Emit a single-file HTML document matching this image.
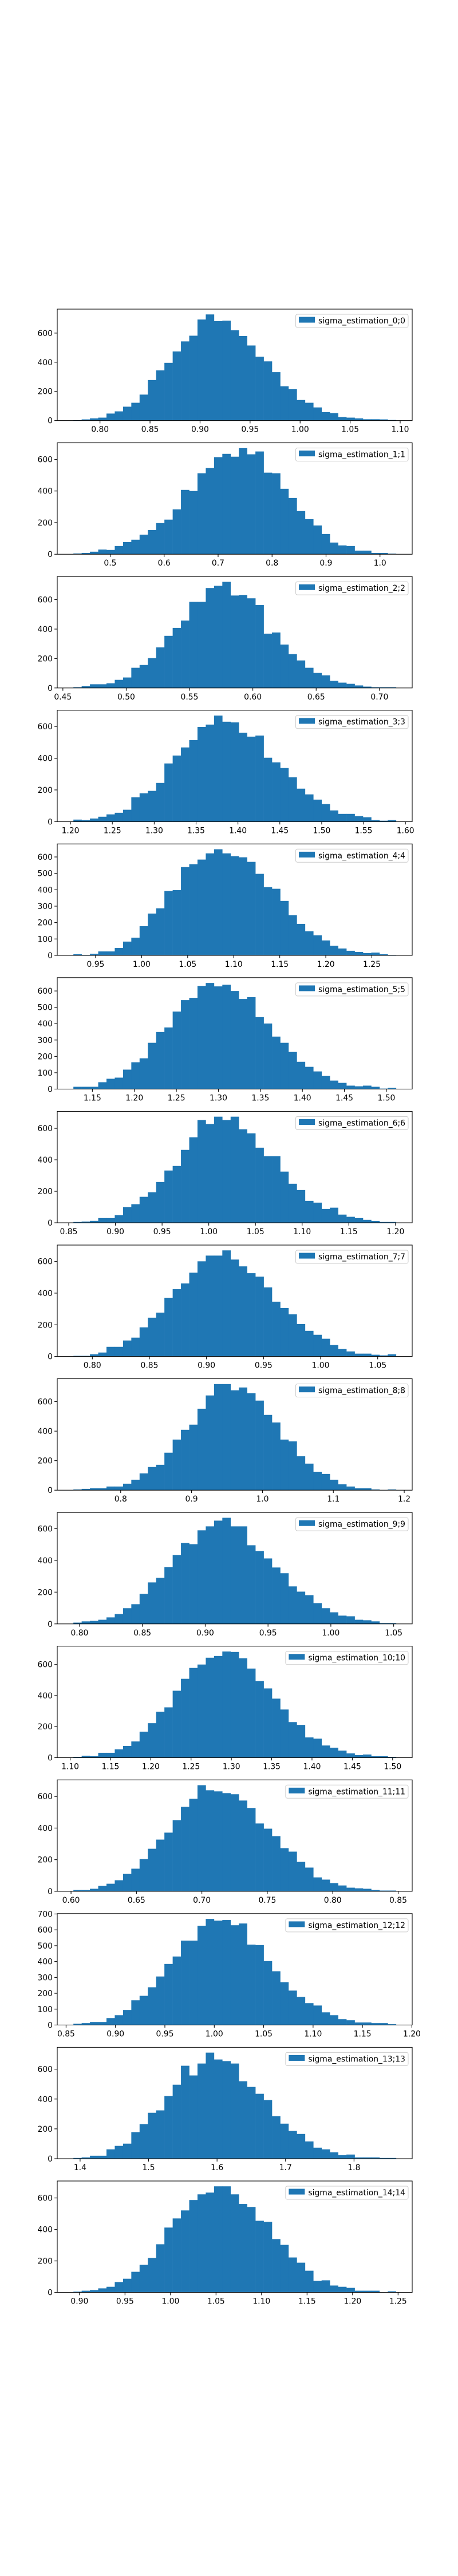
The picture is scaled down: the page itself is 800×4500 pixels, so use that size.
<!DOCTYPE html>
<html><head><meta charset="utf-8">
<style>
html,body{margin:0;padding:0;background:#fff;}
svg{display:block;}
text{font-family:"DejaVu Sans","Liberation Sans",sans-serif;font-size:13.9px;fill:#000;}
</style></head>
<body>
<svg id="fig" width="800" height="4500" viewBox="0 0 800 4500" xmlns="http://www.w3.org/2000/svg"></svg>
<script>
// ---- data (one array per panel) ----
const labels = ["sigma_estimation_0;0","sigma_estimation_1;1","sigma_estimation_2;2","sigma_estimation_3;3","sigma_estimation_4;4","sigma_estimation_5;5","sigma_estimation_6;6","sigma_estimation_7;7","sigma_estimation_8;8","sigma_estimation_9;9","sigma_estimation_10;10","sigma_estimation_11;11","sigma_estimation_12;12","sigma_estimation_13;13","sigma_estimation_14;14"];
const dataMin = [0.7734,0.4318,0.4583,1.2035,0.9259,1.1274,0.855,0.7834,0.7333,0.7951,1.104,0.6018,0.8574,1.3902,0.8933];
const dataMax = [1.0959,1.0298,0.7131,1.5888,1.2763,1.5115,1.2006,1.0661,1.1885,1.0519,1.5043,0.8484,1.184,1.8614,1.2478];
const counts0 = [3,8,15,20,48,63,95,122,178,278,344,396,474,543,582,693,728,682,685,619,580,515,438,406,332,235,215,141,122,90,58,51,24,20,15,9,9,8,4];
const counts1 = [5,8,16,30,27,52,77,92,124,153,197,219,284,407,400,512,545,614,635,617,671,632,650,516,512,414,356,273,222,182,128,74,56,52,23,23,8,8,4];
const counts2 = [5,13,25,25,32,55,71,137,156,203,276,354,408,458,585,585,679,694,721,628,632,609,563,369,377,295,230,187,137,102,86,48,36,28,17,9,5,5,5];
const counts3 = [13,10,20,31,46,56,75,154,179,194,244,367,417,468,514,597,612,669,630,626,561,536,543,403,374,338,280,208,172,139,111,71,49,49,35,28,10,6,10];
const counts4 = [7,3,10,24,24,45,84,108,178,255,287,393,398,538,556,584,622,647,622,605,598,570,497,416,406,332,245,192,147,122,91,59,42,28,21,14,17,7,3];
const counts5 = [14,14,14,42,63,70,119,164,188,283,349,377,474,544,558,631,649,628,638,600,551,562,440,401,321,283,227,167,136,108,80,52,38,21,17,21,14,3,7];
const counts6 = [5,8,12,30,30,48,99,118,165,194,259,332,361,463,543,652,627,674,652,674,594,568,477,423,423,325,248,208,139,128,88,96,52,38,30,19,11,5,5];
const counts7 = [4,4,14,25,61,61,101,119,184,245,277,371,425,461,529,601,637,637,670,612,569,526,504,436,346,306,266,205,162,137,112,72,47,32,18,18,11,7,14];
const counts8 = [5,9,13,13,25,25,44,71,114,157,172,254,343,409,444,552,642,719,719,677,696,657,607,510,459,343,331,230,180,125,110,71,40,25,13,13,5,0,5];
const counts9 = [8,16,19,26,41,62,99,124,189,261,290,358,434,510,502,589,614,650,668,614,614,495,459,412,355,319,236,203,181,131,99,73,52,48,26,23,16,5,5];
const counts10 = [5,12,9,31,31,53,75,104,167,222,295,324,431,508,578,600,644,655,684,681,640,574,493,446,380,310,229,211,130,122,78,64,45,27,16,20,9,9,5];
const counts11 = [8,8,16,34,48,70,110,143,204,269,327,371,450,534,585,671,639,632,621,614,574,527,429,396,349,273,251,186,150,88,74,52,37,23,19,16,8,5,5];
const counts12 = [8,12,19,19,44,62,95,156,184,238,306,385,432,532,532,626,669,658,662,629,640,507,504,403,339,270,217,177,138,123,80,62,37,30,16,16,12,12,5];
const counts13 = [5,9,20,20,63,86,101,178,232,308,324,420,496,623,558,638,711,665,654,638,519,481,435,393,285,235,186,166,116,74,63,43,24,28,9,9,9,5,5];
const counts14 = [5,11,15,26,36,66,87,131,175,219,306,412,470,521,587,623,634,674,674,623,562,543,455,448,339,302,222,189,138,73,77,44,36,29,11,11,11,0,7];
const xTicks0 = ["0.80","0.85","0.90","0.95","1.00","1.05","1.10"];
const xTicks1 = ["0.5","0.6","0.7","0.8","0.9","1.0"];
const xTicks2 = ["0.45","0.50","0.55","0.60","0.65","0.70"];
const xTicks3 = ["1.20","1.25","1.30","1.35","1.40","1.45","1.50","1.55","1.60"];
const xTicks4 = ["0.95","1.00","1.05","1.10","1.15","1.20","1.25"];
const xTicks5 = ["1.15","1.20","1.25","1.30","1.35","1.40","1.45","1.50"];
const xTicks6 = ["0.85","0.90","0.95","1.00","1.05","1.10","1.15","1.20"];
const xTicks7 = ["0.80","0.85","0.90","0.95","1.00","1.05"];
const xTicks8 = ["0.8","0.9","1.0","1.1","1.2"];
const xTicks9 = ["0.80","0.85","0.90","0.95","1.00","1.05"];
const xTicks10 = ["1.10","1.15","1.20","1.25","1.30","1.35","1.40","1.45","1.50"];
const xTicks11 = ["0.60","0.65","0.70","0.75","0.80","0.85"];
const xTicks12 = ["0.85","0.90","0.95","1.00","1.05","1.10","1.15","1.20"];
const xTicks13 = ["1.4","1.5","1.6","1.7","1.8"];
const xTicks14 = ["0.90","0.95","1.00","1.05","1.10","1.15","1.20","1.25"];
const yTickStep = [200,200,200,200,100,100,200,200,200,200,200,200,100,200,200];

const allCounts=[counts0,counts1,counts2,counts3,counts4,counts5,counts6,counts7,counts8,counts9,counts10,counts11,counts12,counts13,counts14];
const allXTicks=[xTicks0,xTicks1,xTicks2,xTicks3,xTicks4,xTicks5,xTicks6,xTicks7,xTicks8,xTicks9,xTicks10,xTicks11,xTicks12,xTicks13,xTicks14];

const NS="http://www.w3.org/2000/svg";
const fig=document.getElementById('fig');
function mk(tag,attrs,parent){const e=document.createElementNS(NS,tag);for(const k in attrs)e.setAttribute(k,attrs[k]);(parent||fig).appendChild(e);return e;}

const L=100,R=720,TOP0=540,PITCH=233.57,H=194.64;
for(let i=0;i<15;i++){
  const g=mk('g',{});
  
  
  const top=TOP0+i*PITCH, bot=top+H;
  const c=allCounts[i], n=c.length;
  const mn=dataMin[i], mx=dataMax[i], span=mx-mn;
  const x0=mn-0.05*span, x1=mx+0.05*span;
  const ymax=Math.max(...c)*1.05;
  const X=v=>L+(v-x0)/(x1-x0)*(R-L);
  const Y=v=>bot-v/ymax*H;
  const w=span/n;
  for(let b=0;b<n;b++){
    if(c[b]<=0)continue;
    const xa=X(mn+b*w), xb=X(mn+(b+1)*w);
    const r=mk('rect',{x:xa,y:Y(c[b]),width:xb-xa+0.3,height:bot-Y(c[b]),fill:'#1f77b4'},g);
    
    
  }
  // y ticks
  const st=yTickStep[i];
  for(let v=0;v<=ymax;v+=st){
    const y=Y(v);
    mk('line',{x1:L-4.9,x2:L,y1:y,y2:y,stroke:'#000','stroke-width':1.1},g);
    const t=mk('text',{x:L-8,y:y+5,'text-anchor':'end'},g);
    t.textContent=String(v);
    
    
  }
  // x ticks
  allXTicks[i].forEach(s=>{
    const v=parseFloat(s), x=X(v);
    if(x<L-1||x>R+1)return;
    mk('line',{x1:x,x2:x,y1:bot,y2:bot+4.9,stroke:'#000','stroke-width':1.1},g);
    const t=mk('text',{x:x,y:bot+20,'text-anchor':'middle'},g);
    t.textContent=s;
    
    
  });
  // frame
  const fr=mk('rect',{x:L,y:top,width:R-L,height:H,fill:'none',stroke:'#000','stroke-width':1.1},g);
  
  
  // legend
  const lg=mk('g',{},g);
  
  
  const box=mk('rect',{y:top+9,height:23,rx:3,fill:'#fff','fill-opacity':0.8,stroke:'#ccc','stroke-width':1},lg);
  const tx=mk('text',{y:top+25},lg);
  tx.textContent=labels[i];
  
  
  let tw=tx.getComputedTextLength?tx.getComputedTextLength():150;
  if(!tw)tw=150;
  const bR=R-7, tStart=bR-5-tw, bL=tStart-39.5;
  tx.setAttribute('x',tStart);
  box.setAttribute('x',bL);box.setAttribute('width',bR-bL);
  const sw=mk('rect',{x:bL+5.5,y:top+13.6,width:28,height:10,fill:'#1f77b4'},lg);
  
  
}
</script>
</body></html>
